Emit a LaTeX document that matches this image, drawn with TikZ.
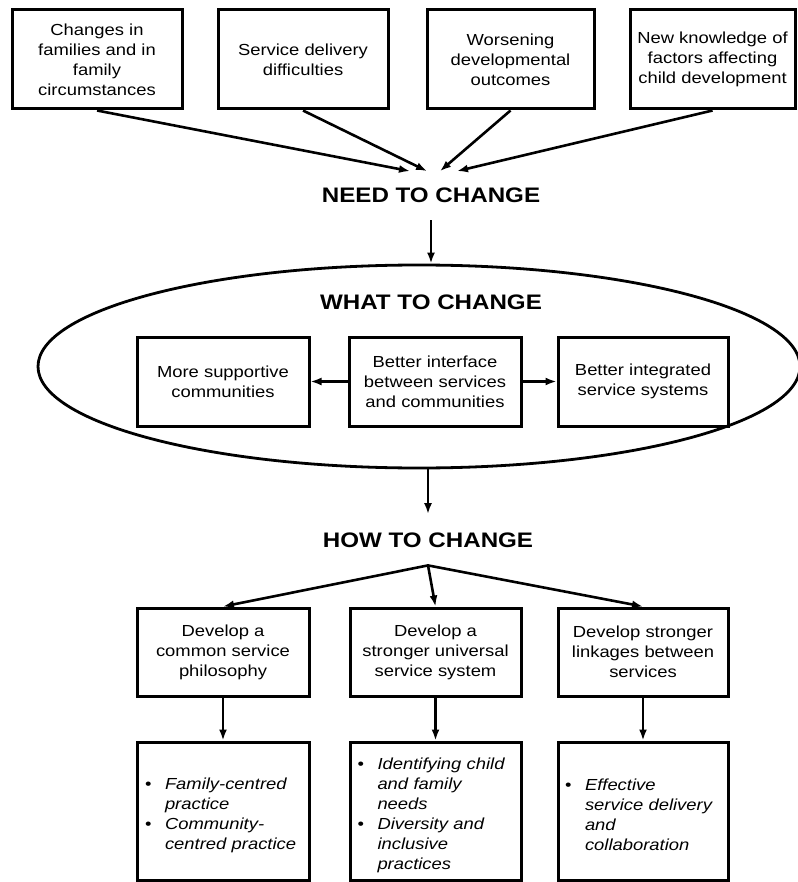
\documentclass[tikz,border=0pt]{standalone}
\usepackage{fontspec}
\setmainfont{Liberation Sans}[FakeStretch=1.15]
\usetikzlibrary{arrows.meta,shapes.geometric,calc}
\tikzset{>={Latex[length=11pt,width=8pt]}}
\tikzset{box/.style={draw,line width=3pt,align=center,inner sep=2pt,font=\fontsize{16}{20}\selectfont}}
\tikzset{outbox/.style={box,align=left,text width=156pt,inner xsep=7pt}}
\tikzset{head/.style={font=\fontsize{21}{24}\selectfont\bfseries,inner xsep=2pt,inner ysep=17pt,anchor=base}}
\tikzset{link/.style={->,line width=2.6pt}}
\newcommand\bpoint[1]{\par\noindent\hangindent=20pt\hangafter=1\makebox[20pt][l]{\textbullet}\textit{#1}\par}

\begin{document}
\begin{tikzpicture}[x=1pt,y=-1pt]
  \useasboundingbox (0,0) rectangle (797,882);
  % Causes
  \node[box,minimum width=170pt,minimum height=99pt] (families) at (97,59.5) {Changes in\\families and in\\family\\circumstances};
  \node[box,minimum width=170pt,minimum height=99pt] (delivery) at (303,59.5) {Service delivery\\difficulties};
  \node[box,minimum width=167pt,minimum height=99pt] (outcomes) at (510.5,59.5) {Worsening\\developmental\\outcomes};
  \node[box,minimum width=165pt,minimum height=99pt] (knowledge) at (712.5,59.5) {New knowledge of\\factors affecting\\child development};
  \node[head] (need) at (431,203) {NEED TO CHANGE};
  % What
  \node[draw,ellipse,line width=2.8pt,minimum width=762pt,minimum height=203pt] (what) at (419,366.5) {};
  \node[head,inner ysep=2pt] (whatlbl) at (431,309) {WHAT TO CHANGE};
  \node[box,minimum width=172pt,minimum height=89pt] (supportive) at (223,381.5) {More supportive\\communities};
  \node[box,minimum width=172pt,minimum height=89pt] (interface) at (435,381.5) {Better interface\\between services\\and communities};
  \node[box,minimum width=170pt,minimum height=89pt] (integrated) at (643,381.5) {Better integrated\\service systems};
  % How
  \node[head,inner ysep=18pt] (how) at (428,547) {HOW TO CHANGE};
  \node[box,minimum width=172pt,minimum height=88pt] (philosophy) at (223,652) {Develop a\\common service\\philosophy};
  \node[box,minimum width=171pt,minimum height=88pt] (universal) at (435.5,652) {Develop a\\stronger universal\\service system};
  \node[box,minimum width=170pt,minimum height=88pt] (linkages) at (643,652) {Develop stronger\\linkages between\\services};
  \node[outbox,minimum width=172pt,minimum height=138pt] (centred) at (223,811) {\bpoint{Family-centred\newline practice}\bpoint{Community-\newline centred practice}};
  \node[outbox,minimum width=171pt,minimum height=138pt] (needs) at (435.5,811) {\bpoint{Identifying child\newline and family\newline needs}\bpoint{Diversity and\newline inclusive\newline practices}};
  \node[outbox,minimum width=170pt,minimum height=138pt] (collab) at (643,811) {\bpoint{Effective\newline service delivery\newline and\newline collaboration}};
  % Lines
  \draw[link] (families.south) -- ([xshift=-21pt]need.north);
  \draw[link] (delivery.south) -- ([xshift=-4pt]need.north);
  \draw[link] (outcomes.south) -- ([xshift=9pt]need.north);
  \draw[link] (knowledge.south) -- ([xshift=26pt]need.north);
  \draw[link] (need.south) -- (need.south |- what.north);
  \draw[link] (interface.west) -- (supportive.east);
  \draw[link] (interface.east) -- (integrated.west);
  \draw[link] (what.south -| how.north) -- (how.north);
  \draw[link] (how.south) -- (philosophy.north);
  \draw[link] (how.south) -- (universal.north);
  \draw[link] (how.south) -- (linkages.north);
  \draw[link] (philosophy.south) -- (centred.north);
  \draw[link] (universal.south) -- (needs.north);
  \draw[link] (linkages.south) -- (collab.north);
\end{tikzpicture}
\end{document}
